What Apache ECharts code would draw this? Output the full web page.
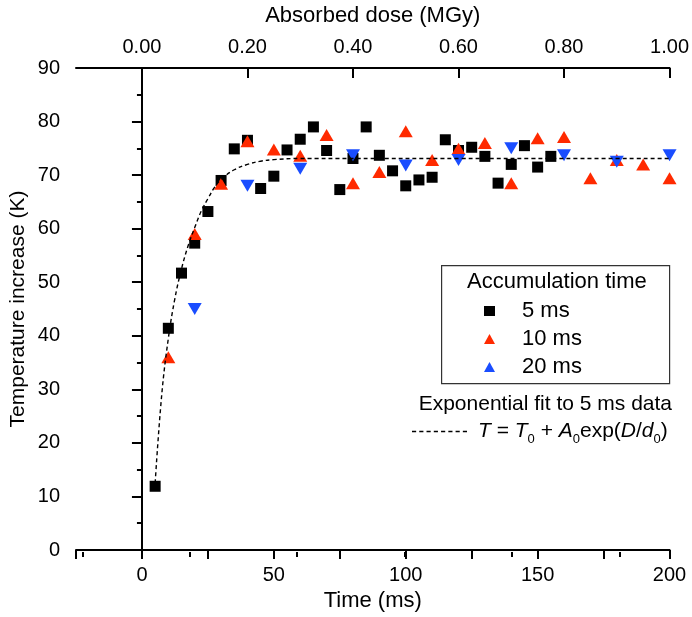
<!DOCTYPE html>
<html>
<head>
<meta charset="utf-8">
<script src="https://cdn.jsdelivr.net/npm/echarts@6/dist/echarts.min.js"></script>
<style>
  html, body { margin: 0; padding: 0; background: #fff; }
  #chart { width: 692px; height: 617px; }
</style>
</head>
<body>
<div id="chart"></div>
<script>
// 5 ms accumulation (black squares)
var time5 = [5, 10, 15, 20, 25, 30, 35, 40, 45, 50, 55, 60, 65, 70, 75, 80, 85, 90, 95, 100,
             105, 110, 115, 120, 125, 130, 135, 140, 145, 150, 155];
var temp5 = [11.9, 41.4, 51.7, 57.3, 63.2, 69.0, 74.9, 76.5, 67.5, 69.8, 74.7, 76.7, 79.0, 74.6, 67.3, 73.1, 79.0, 73.7, 70.8, 68.0,
             69.1, 69.6, 76.6, 74.6, 75.2, 73.5, 68.5, 72.0, 75.5, 71.5, 73.5];
// 10 ms (red up triangles)
var time10 = [10, 20, 30, 40, 50, 60, 70, 80, 90, 100, 110, 120, 130, 140, 150, 160, 170, 180, 190, 200];
var temp10 = [36.0, 59.0, 68.4, 76.3, 74.8, 73.6, 77.5, 68.5, 70.6, 78.2, 72.8, 74.9, 76.0, 68.5, 76.9, 77.1, 69.4, 72.8, 72.0, 69.4];
// 20 ms (blue down triangles)
var time20 = [20, 40, 60, 80, 100, 120, 140, 160, 180, 200];
var temp20 = [45.0, 68.0, 71.2, 73.7, 71.8, 72.8, 75.0, 73.7, 72.5, 73.7];
// fit curve
var fitTime = [5, 7.5, 10, 12.5, 15, 17.5, 20, 22.5, 25, 27.5, 30, 35, 40, 45, 50, 60, 80, 120, 160, 200];
var fitTemp = [12.5, 29, 39.5, 47, 52.5, 56.8, 60.2, 63.3, 65.6, 67.7, 69.2, 71.0, 72.0, 72.6, 72.9, 73.1, 73.1, 73.1, 73.1, 73.1];

var timeLabels = [0, 50, 100, 150, 200];
var timeTicks = [-25, 0, 25, 50, 75, 100, 125, 150, 175, 200];
var doseLabels = [0, 0.2, 0.4, 0.6, 0.8, 1.0];
var doseMinor = [-0.1, 0.1, 0.3, 0.5, 0.7, 0.9];

var FONT = '"Liberation Sans", Arial, sans-serif';
var RED = '#ff2a00';
var BLUE = '#1a4dff';

function pairs(xs, ys) {
  var out = [];
  for (var i = 0; i < xs.length; i++) out.push([xs[i], ys[i]]);
  return out;
}

// dashed sample for the fit legend entry
var dashIcon = 'path://';
for (var k = 0; k < 8; k++) dashIcon += 'M' + (k * 7) + ',0h4v1.4h-4z';

var gridBox = { left: 69, right: 19, top: 64, bottom: 65 };
var axisLine = { show: true, lineStyle: { color: '#000', width: 2 } };

var chart = echarts.init(document.getElementById('chart'));
var option = {
  animation: false,
  textStyle: { fontFamily: FONT },
  grid: [
    Object.assign({}, gridBox),
    Object.assign({}, gridBox)
  ],
  xAxis: [
    {
      type: 'value', gridIndex: 0, position: 'bottom', min: -25, max: 200,
      axisLine: axisLine,
      axisTick: { customValues: timeTicks, length: 9, lineStyle: { color: '#000', width: 2 } },
      axisLabel: { customValues: timeLabels, margin: 15, fontSize: 20, color: '#000', fontFamily: FONT },
      splitLine: { show: false },
      name: 'Time (ms)', nameLocation: 'middle', nameGap: 40, nameMoveOverlap: false,
      nameTextStyle: { fontSize: 22, color: '#000', fontFamily: FONT }
    },
    {
      type: 'value', gridIndex: 0, position: 'top', min: -0.125, max: 1.0,
      axisLine: axisLine,
      axisTick: { customValues: doseLabels, inside: true, length: 10, lineStyle: { color: '#000', width: 2 } },
      axisLabel: {
        customValues: doseLabels, margin: 11, fontSize: 20, color: '#000', fontFamily: FONT,
        formatter: function (v) { return v.toFixed(2); }
      },
      splitLine: { show: false },
      name: 'Absorbed dose (MGy)', nameLocation: 'middle', nameGap: 41, nameMoveOverlap: false,
      nameTextStyle: { fontSize: 22, color: '#000', fontFamily: FONT }
    },
    {
      type: 'value', gridIndex: 1, position: 'top', min: -0.125, max: 1.0,
      axisLine: { show: false },
      axisTick: { customValues: doseMinor, inside: true, length: 5, lineStyle: { color: '#000', width: 2 } },
      axisLabel: { show: false },
      splitLine: { show: false }
    }
  ],
  yAxis: [
    {
      type: 'value', gridIndex: 0, min: 0, max: 90, interval: 10,
      axisLine: axisLine,
      axisTick: { length: 10, lineStyle: { color: '#000', width: 2 } },
      minorTick: { show: true, splitNumber: 2, length: 5, lineStyle: { color: '#000', width: 2 } },
      axisLabel: { margin: 16, fontSize: 20, color: '#000', fontFamily: FONT },
      splitLine: { show: false },
      name: 'Temperature increase (K)', nameLocation: 'middle', nameGap: 47, nameMoveOverlap: false,
      nameTextStyle: { fontSize: 21, color: '#000', fontFamily: FONT }
    },
    {
      type: 'value', gridIndex: 1, min: 0, max: 90, show: false
    }
  ],
  legend: [
    {
      left: 484, top: 300, orient: 'vertical', padding: 0,
      itemWidth: 11, itemHeight: 10, itemGap: 6, selectedMode: false,
      textStyle: { fontSize: 22, color: '#000', fontFamily: FONT, lineHeight: 22, padding: [0, 0, 0, 22] },
      data: [
        { name: '5 ms', icon: 'rect' },
        { name: '10 ms', icon: 'triangle' },
        { name: '20 ms', icon: 'triangle' }
      ]
    },
    {
      left: 412, top: 421, orient: 'horizontal', padding: 0,
      itemWidth: 55, itemHeight: 10, selectedMode: false,
      data: [{ name: 'fit', icon: dashIcon }],
      formatter: function () {
        return '{i|T} = {i|T}{s|0} + {i|A}{s|0}exp({i|D}/{i|d}{s|0})';
      },
      textStyle: {
        fontSize: 21, color: '#000', fontFamily: FONT, padding: [0, 0, 0, 6],
        rich: {
          i: { fontStyle: 'italic', fontSize: 21, fontFamily: FONT, color: '#000' },
          s: { fontSize: 13, fontFamily: FONT, color: '#000', verticalAlign: 'bottom', padding: [0, 0, -4, 0] }
        }
      }
    }
  ],
  graphic: [
    {
      type: 'rect', left: 441, top: 265, z: 0,
      shape: { width: 228, height: 118 },
      style: { fill: '#fff', stroke: '#333', lineWidth: 1.2 }
    },
    {
      type: 'text', left: 467, top: 271,
      style: { text: 'Accumulation time', font: '22px ' + FONT, fill: '#000' }
    },
    {
      type: 'text', right: 20, top: 394,
      style: { text: 'Exponential fit to 5 ms data', font: '21px ' + FONT, fill: '#000' }
    }
  ],
  series: [
    {
      name: '5 ms', type: 'scatter', xAxisIndex: 0, yAxisIndex: 0,
      symbol: 'rect', symbolSize: 11,
      itemStyle: { color: '#000', opacity: 1 },
      emphasis: { disabled: true },
      data: pairs(time5, temp5), z: 3
    },
    {
      name: '10 ms', type: 'scatter', xAxisIndex: 0, yAxisIndex: 0,
      symbol: 'triangle', symbolSize: [14, 12],
      itemStyle: { color: RED, opacity: 1 },
      emphasis: { disabled: true },
      data: pairs(time10, temp10), z: 4
    },
    {
      name: '20 ms', type: 'scatter', xAxisIndex: 0, yAxisIndex: 0,
      symbol: 'triangle', symbolRotate: 180, symbolSize: [14, 12],
      itemStyle: { color: BLUE, opacity: 1 },
      emphasis: { disabled: true },
      data: pairs(time20, temp20), z: 5
    },
    {
      name: 'fit', type: 'line', xAxisIndex: 0, yAxisIndex: 0,
      smooth: 0.4, symbol: 'none', showSymbol: false, silent: true,
      lineStyle: { color: '#000', width: 1.4, type: [4, 3] },
      itemStyle: { color: '#000' },
      data: pairs(fitTime, fitTemp), z: 6
    }
  ]
};
chart.setOption(option);
</script>
</body>
</html>
